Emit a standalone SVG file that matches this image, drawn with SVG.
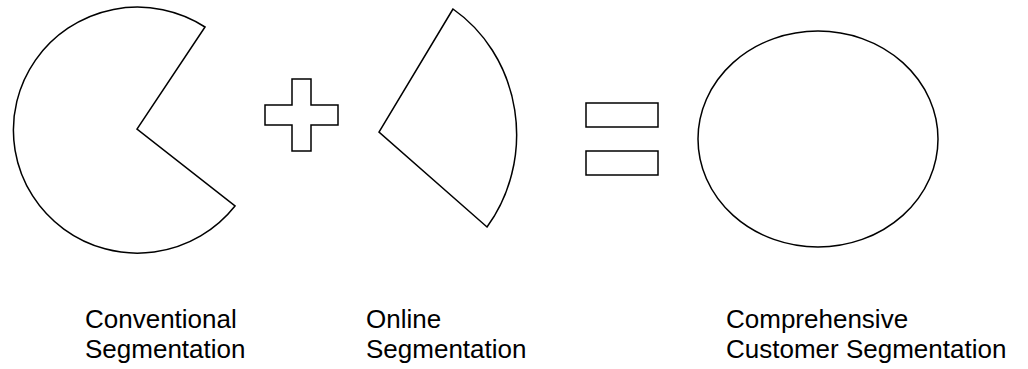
<svg xmlns="http://www.w3.org/2000/svg" width="1028" height="369" viewBox="0 0 1028 369">
<style>
.s{fill:#fff;stroke:#000;stroke-width:1.5;stroke-linejoin:miter}
.t{font-family:"Liberation Sans",Arial,sans-serif;font-size:26px;fill:#000}
</style>
<rect width="1028" height="369" fill="#fff"/>
<g id="conventional">
<path class="s" d="M205,27 L137,129 L235,206 A124,123 0 1 1 205,27 Z"/>
<text class="t" x="85" y="328">Conventional</text>
<text class="t" x="85" y="358">Segmentation</text>
</g>
<g id="plus">
<path class="s" d="M292,79 H311 V105 H338 V125 H311 V151 H292 V125 H265 V105 H292 Z"/>
</g>
<g id="online">
<path class="s" d="M453,9 L379,132 L487,227 A140,150 0 0 0 453,9 Z"/>
<text class="t" x="366" y="328">Online</text>
<text class="t" x="366" y="358">Segmentation</text>
</g>
<g id="equals">
<rect class="s" x="586" y="103" width="72" height="24"/>
<rect class="s" x="586" y="151" width="72" height="24"/>
</g>
<g id="comprehensive">
<ellipse class="s" cx="818" cy="139" rx="120" ry="108"/>
<text class="t" x="726" y="328">Comprehensive</text>
<text class="t" x="726" y="358">Customer Segmentation</text>
</g>
<g id="connectors"/>
</svg>
